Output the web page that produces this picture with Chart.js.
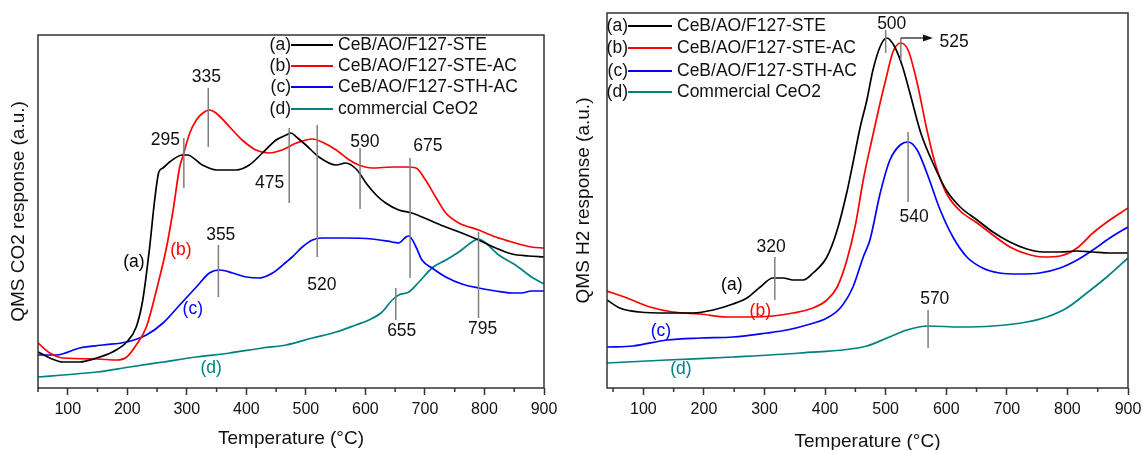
<!DOCTYPE html>
<html><head><meta charset="utf-8">
<script src="https://cdn.jsdelivr.net/npm/chart.js@4.4.1/dist/chart.umd.min.js"></script>
<style>
html,body{margin:0;padding:0;background:#fff;width:1143px;height:450px;overflow:hidden}
canvas{position:absolute;top:0}
</style></head><body>
<canvas id="c1" width="560" height="450" style="left:0px"></canvas>
<canvas id="c2" width="583" height="450" style="left:560px"></canvas>
<script>
// ---------- DATA : CO2-TPD (left panel) ----------
const co2T_a = [50,70,92,120,149,175,199,215,226,237,246,253,260,271,293,301,326,350,383,405,427,450,467,475,484,500,522,551,567,586,601,618,634,656,678,707,735,762,790,819,846,874,900];
const co2Y_a = [36,30,26,26,30,36,46,61,88,138,188,216,220,226,233,233,223,218,218,223,235,248,253,255,251,243,231,223,225,218,205,193,185,178,175,168,161,155,148,140,134,132,131];
const co2T_b = [50,70,92,149,182,199,215,232,249,266,277,288,293,305,316,327,338,349,372,393,416,438,460,484,511,527,551,573,589,611,645,668,685,701,718,735,757,790,819,846,879,900];
const co2Y_b = [45,35,30,29,28,31,43,61,98,141,178,221,231,255,268,275,278,275,261,248,238,235,238,245,249,246,238,228,223,220,221,221,220,208,191,175,165,158,151,146,141,140];
const co2T_c = [50,81,120,159,199,232,260,288,316,338,355,377,400,422,444,467,477,494,511,527,567,611,645,656,668,673,685,695,712,735,762,790,819,846,862,879,900];
const co2Y_c = [33,33,40,43,46,53,65,83,101,115,118,115,111,110,115,126,131,141,148,150,150,149,146,145,151,152,141,128,120,111,104,100,97,95,95,97,97];
const co2T_d = [50,92,149,204,260,316,372,427,467,511,551,584,606,628,645,656,673,690,712,735,757,779,790,802,824,852,879,900];
const co2Y_d = [11,13,16,21,26,31,35,40,43,50,56,63,68,76,88,93,96,106,120,128,136,146,149,145,133,123,111,104];

// ---------- DATA : H2-TPR (right panel) ----------
const h2T_a = [40,61,94,139,182,215,248,271,293,314,331,347,364,380,403,420,436,446,458,469,479,492,502,515,528,540,558,581,600,623,651,677,705,733,760,788,816,842,870,900];
const h2Y_a = [88,80,76,75,75,78,84,90,101,110,110,108,108,115,131,158,196,225,261,288,318,343,350,341,321,295,255,221,198,181,168,156,146,139,136,136,137,136,135,135];
const h2T_b = [40,73,111,149,194,238,276,314,347,380,403,420,436,450,463,476,490,500,512,525,537,552,567,581,600,623,651,677,705,733,760,788,816,842,870,900];
const h2Y_b = [97,90,81,76,74,71,71,72,75,80,88,101,128,163,208,245,283,308,336,345,338,305,261,226,195,177,165,153,141,134,131,132,140,155,168,180];
const h2T_c = [40,83,139,194,248,304,337,370,403,425,446,463,474,491,507,524,537,552,568,590,611,634,660,688,721,754,788,816,842,870,900];
const h2Y_c = [41,42,48,50,51,55,58,63,70,80,101,131,148,195,228,243,246,238,215,178,151,131,120,115,114,115,120,128,138,150,161];
const h2T_d = [40,139,248,358,469,502,535,570,623,677,733,766,799,832,865,900];
const h2Y_d = [25,28,31,35,42,50,58,62,61,62,66,71,80,95,111,130];

// ---------- labels / ticks ----------
const tags = ['(a)','(b)','(c)','(d)'];
const co2Names = ['CeB/AO/F127-STE','CeB/AO/F127-STE-AC','CeB/AO/F127-STH-AC','commercial CeO2'];
const h2Names  = ['CeB/AO/F127-STE','CeB/AO/F127-STE-AC','CeB/AO/F127-STH-AC','Commercial CeO2'];
const majorTicks = [100,200,300,400,500,600,700,800,900];
const minorTicks = [50,150,250,350,450,550,650,750,850];

// peak markers (data space): label, line x, line y from/to, label anchor x/y
const co2PeakLabel = ['295','335','475','520','590','675','355','655','795'];
const co2PeakX     = [295,336,472,519,591,675,353,651,790];
const co2PeakY1    = [250,300,260,263,240,230,143,100,156];
const co2PeakY2    = [200,241,185,131,179,110,91,68,70];
const co2PeakLX    = [264,333,439,527,599,705,357,661,797];
const co2PeakLY    = [248,311,205,103,246,242,153,57,59];
const h2PeakLabel  = ['320','540','570','500','525'];
const h2PeakX      = [317,537,570,500,525];
const h2PeakY1     = [131,256,78,358,350];
const h2PeakY2     = [88,186,40,335,328];
const h2PeakLX     = [311,547,581,510,613];
const h2PeakLY     = [141,171,89,364,346];
// curve tags (data space anchor)
const co2TagX = [211,290,310,341], co2TagY = [126,138,79,20];
const h2TagX  = [246,293,129,162], h2TagY  = [103,77,57,19];

const colors = ['#000000','#ff0000','#0000ff','#008080'];
const FONT = '"Liberation Sans", Arial, sans-serif';
const TXT = '#111';

function pts(T, Y){ return T.map((t,i)=>({x:t,y:Y[i]})); }

function overlay(cfg){
  return {
    id:'overlay',
    afterDraw(chart){
      const ctx = chart.ctx, a = chart.chartArea, xs = chart.scales.x, ys = chart.scales.y;
      ctx.save();
      ctx.strokeStyle = '#333'; ctx.lineWidth = 1.5;
      ctx.strokeRect(a.left, a.top, a.right - a.left, a.bottom - a.top);
      ctx.beginPath();
      minorTicks.forEach(v => { if (v < xs.min) return; const px = xs.getPixelForValue(v); ctx.moveTo(px, a.bottom); ctx.lineTo(px, a.bottom + 4); });
      ctx.stroke();
      ctx.strokeStyle = '#7f7f7f'; ctx.lineWidth = 1.5;
      ctx.beginPath();
      cfg.px.forEach((x,i) => {
        const X = xs.getPixelForValue(x);
        ctx.moveTo(X, ys.getPixelForValue(cfg.py1[i]));
        ctx.lineTo(X, ys.getPixelForValue(cfg.py2[i]));
      });
      ctx.stroke();
      if (cfg.arrow) {
        const [x0,x1,yv] = cfg.arrow;
        const X0 = xs.getPixelForValue(x0), X1 = xs.getPixelForValue(x1), Y = ys.getPixelForValue(yv);
        ctx.strokeStyle = '#111'; ctx.lineWidth = 1.2;
        ctx.beginPath(); ctx.moveTo(X0, Y); ctx.lineTo(X1 - 8, Y); ctx.stroke();
        ctx.fillStyle = '#111';
        ctx.beginPath(); ctx.moveTo(X1, Y); ctx.lineTo(X1 - 10, Y - 3.5); ctx.lineTo(X1 - 10, Y + 3.5); ctx.closePath(); ctx.fill();
      }
      ctx.font = '17.5px ' + FONT; ctx.fillStyle = TXT; ctx.textAlign = 'center'; ctx.textBaseline = 'middle';
      cfg.pl.forEach((t,i) => ctx.fillText(t, xs.getPixelForValue(cfg.plx[i]), ys.getPixelForValue(cfg.ply[i])));
      tags.forEach((t,i) => { ctx.fillStyle = colors[i]; ctx.fillText(t, xs.getPixelForValue(cfg.tx[i]), ys.getPixelForValue(cfg.ty[i])); });
      const L = cfg.legend;
      cfg.names.forEach((n,i) => {
        const y = a.top + L.rows[i];
        ctx.fillStyle = TXT; ctx.textAlign = 'right'; ctx.fillText(tags[i], a.left + L.pre, y);
        ctx.strokeStyle = colors[i]; ctx.lineWidth = 2;
        ctx.beginPath(); ctx.moveTo(a.left + L.pre, y); ctx.lineTo(a.left + L.lineEnd, y); ctx.stroke();
        ctx.textAlign = 'left'; ctx.fillText(n, a.left + L.text, y);
      });
      ctx.restore();
    }
  };
}

function makeChart(id, series, names, xmin, ymax, yTitle, yWidth, yTitlePad, pad, xTitlePadBottom, cfg){
  return new Chart(document.getElementById(id), {
    type: 'line',
    data: { datasets: series.map((s,i) => ({
      label: names[i], data: pts(s[0], s[1]), borderColor: colors[i], backgroundColor: colors[i],
      borderWidth: 1.7, pointRadius: 0, cubicInterpolationMode: 'monotone', fill: false
    })) },
    options: {
      responsive: false, animation: false,
      layout: { padding: pad },
      plugins: { legend: { display: false }, tooltip: { enabled: false } },
      scales: {
        x: {
          type: 'linear', min: xmin, max: 900,
          afterBuildTicks: s => { s.ticks = majorTicks.map(v => ({value: v})); },
          afterFit: s => { s.height = 62; s.paddingLeft = 0; s.paddingRight = 0; },
          grid: { display: true, drawOnChartArea: false, drawTicks: true, tickLength: 7, tickWidth: 1.5, tickColor: '#333' },
          border: { display: false },
          ticks: { padding: 5, color: TXT, font: { family: FONT, size: 16 }, maxRotation: 0, autoSkip: false },
          title: { display: true, text: 'Temperature (°C)', color: TXT, font: { family: FONT, size: 19 }, padding: { top: 0, bottom: xTitlePadBottom } }
        },
        y: {
          min: 0, max: ymax,
          afterFit: s => { s.width = yWidth; },
          ticks: { display: false }, grid: { display: false }, border: { display: false },
          title: { display: true, text: yTitle, color: TXT, font: { family: FONT, size: 19 }, padding: { top: yTitlePad, bottom: 0 } }
        }
      }
    },
    plugins: [overlay(cfg)]
  });
}

makeChart('c1',
  [[co2T_a,co2Y_a],[co2T_b,co2Y_b],[co2T_c,co2Y_c],[co2T_d,co2Y_d]], co2Names,
  50, 353, 'QMS CO2 response (a.u.)', 38, 7, {left:0, top:35, right:16, bottom:0}, 0,
  { px: co2PeakX, py1: co2PeakY1, py2: co2PeakY2, pl: co2PeakLabel, plx: co2PeakLX, ply: co2PeakLY,
    tx: co2TagX, ty: co2TagY, names: co2Names,
    legend: { pre: 253, lineEnd: 295, text: 300, rows: [10, 31, 52, 74] } });

makeChart('c2',
  [[h2T_a,h2Y_a],[h2T_b,h2Y_b],[h2T_c,h2Y_c],[h2T_d,h2Y_d]], h2Names,
  40, 375, 'QMS H2 response (a.u.)', 47, 12, {left:0, top:13, right:15, bottom:0}, -3,
  { px: h2PeakX, py1: h2PeakY1, py2: h2PeakY2, pl: h2PeakLabel, plx: h2PeakLX, ply: h2PeakLY,
    tx: h2TagX, ty: h2TagY, names: h2Names, arrow: [525, 578, 350],
    legend: { pre: 21, lineEnd: 65, text: 70, rows: [13, 35, 58, 79] } });
</script>
</body></html>
